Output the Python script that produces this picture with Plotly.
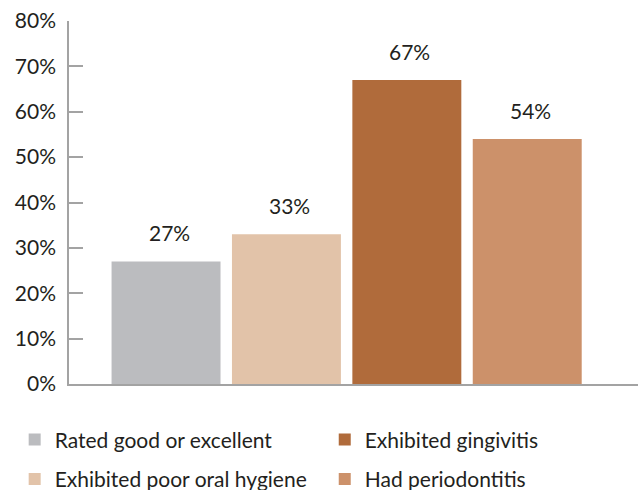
import plotly.graph_objects as go

# Survey results: share of respondents in each oral-health group
categories = [
    "Rated good or excellent",
    "Exhibited poor oral hygiene",
    "Exhibited gingivitis",
    "Had periodontitis",
]
values = [27, 33, 67, 54]
colors = ["#BBBCBF", "#E2C3A9", "#B06B3B", "#CC916A"]
legend_columns = ["legend", "legend", "legend2", "legend2"]

y_ticks = [0, 10, 20, 30, 40, 50, 60, 70, 80]
y_tick_labels = [f"{t}%" for t in y_ticks]

FONT = "Lato"
TEXT_COLOR = "#231F20"
AXIS_COLOR = "#A3A3A3"

fig = go.Figure()
for i, (name, v, c, lg) in enumerate(zip(categories, values, colors, legend_columns)):
    fig.add_trace(go.Bar(
        x=[i], y=[v], name=name, marker=dict(color=c, line=dict(width=0)),
        width=0.905, legend=lg, legendgroup=f"g{i}", hoverinfo="skip",
    ))
    fig.add_annotation(
        x=i, y=v, xref="x", yref="y", text=f"{v}%", showarrow=False,
        yanchor="bottom", yshift=14, xshift=3,
        font=dict(family=FONT, size=21, color=TEXT_COLOR),
    )

legend_style = dict(
    orientation="v", xref="container", yref="container",
    yanchor="top", xanchor="left",
    font=dict(family=FONT, size=21, color=TEXT_COLOR),
    traceorder="grouped", tracegroupgap=9, itemclick=False,
    bgcolor="rgba(0,0,0,0)",
)

fig.update_layout(
    width=638, height=490,
    margin=dict(l=69, r=0, t=21, b=106, autoexpand=False),
    plot_bgcolor="white", paper_bgcolor="white",
    font=dict(family=FONT, size=21, color=TEXT_COLOR),
    barmode="overlay",
    showlegend=True,
    legend=dict(x=0.023, y=0.144, **legend_style),
    legend2=dict(x=0.509, y=0.144, **legend_style),
    xaxis=dict(
        range=[-0.806, 3.92], showgrid=False, zeroline=False,
        showline=True, linecolor=AXIS_COLOR, linewidth=1.5,
        showticklabels=False, ticks="", automargin=False,
    ),
    yaxis=dict(
        range=[0, 80], tickvals=y_ticks, ticktext=y_tick_labels,
        showgrid=False, zeroline=False,
        showline=True, linecolor=AXIS_COLOR, linewidth=1.5,
        ticks="inside", ticklen=14, tickcolor=AXIS_COLOR, tickwidth=1.5,
        ticklabelstandoff=7, automargin=False,
    ),
)

fig.write_html("out.html")
